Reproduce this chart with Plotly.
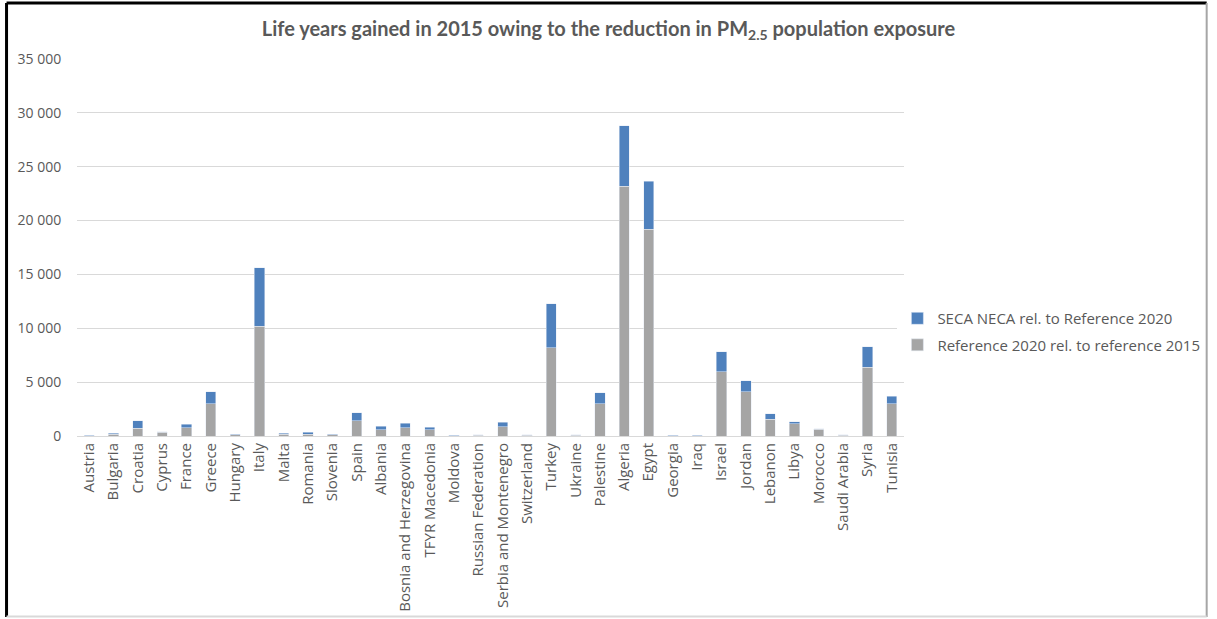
import plotly.graph_objects as go

countries = ["Austria", "Bulgaria", "Croatia", "Cyprus", "France", "Greece", "Hungary", "Italy",
             "Malta", "Romania", "Slovenia", "Spain", "Albania", "Bosnia and Herzegovina",
             "TFYR Macedonia", "Moldova", "Russian Federation", "Serbia and Montenegro",
             "Switzerland", "Turkey", "Ukraine", "Palestine", "Algeria", "Egypt", "Georgia",
             "Iraq", "Israel", "Jordan", "Lebanon", "Libya", "Morocco", "Saudi Arabia",
             "Syria", "Tunisia"]

# Reference 2020 rel. to reference 2015
ref_2020 = [30, 150, 700, 350, 780, 3000, 100, 10200,
            150, 180, 100, 1400, 580, 750,
            560, 10, 70, 850,
            80, 8200, 70, 3000, 23200, 19200, 10,
            10, 5950, 4100, 1550, 1150, 620, 60,
            6400, 3000]

# SECA NECA rel. to Reference 2020
seca_neca = [60, 100, 700, 50, 300, 1100, 50, 5400,
             100, 150, 60, 750, 320, 450,
             250, 60, 60, 450,
             50, 4100, 60, 1000, 5600, 4450, 60,
             60, 1850, 1050, 500, 170, 40, 70,
             1900, 700]

y_ticks = [0, 5000, 10000, 15000, 20000, 25000, 30000, 35000]

fig = go.Figure()
fig.add_trace(go.Bar(x=countries, y=ref_2020, name="Reference 2020 rel. to reference 2015",
                     marker_color="#A5A5A5", legendgroup="ref", legendrank=2))
fig.add_trace(go.Bar(x=countries, y=seca_neca, name="SECA NECA rel. to Reference 2020",
                     marker_color="#4F81BD", legendgroup="seca", legendrank=1))

fig.update_layout(
    barmode="stack",
    bargap=0.58,
    width=1217, height=619,
    paper_bgcolor="white", plot_bgcolor="white",
    separators=", ",
    font=dict(family="Open Sans", size=13, color="#595959"),
    title=dict(text="Life years gained in 2015 owing to the reduction in PM<sub>2.5</sub> population exposure",
               font=dict(family="Lato", size=20, color="#595959", weight="bold"),
               x=0.5, xanchor="center", y=0.953, yanchor="middle"),
    legend=dict(x=0.992, y=0.277, xanchor="left", yanchor="middle",
                traceorder="grouped", font=dict(size=15, color="#595959"),
                itemwidth=30, tracegroupgap=4),
    margin=dict(l=77, r=307, t=59, b=183),
    # chart frame: dark on left/top, light on right/bottom
    shapes=[
        dict(type="line", xref="paper", yref="paper", x0=-0.0852, x1=-0.0852, y0=1.1485, y1=-0.48,
             line=dict(color="black", width=3)),
        dict(type="line", xref="paper", yref="paper", x0=-0.0852, x1=1.366, y0=1.1485, y1=1.1485,
             line=dict(color="black", width=3)),
        dict(type="line", xref="paper", yref="paper", x0=1.366, x1=1.366, y0=1.1485, y1=-0.48,
             line=dict(color="#A6A6A6", width=2)),
        dict(type="line", xref="paper", yref="paper", x0=-0.0852, x1=1.366, y0=-0.4785, y1=-0.4785,
             line=dict(color="#D9D9D9", width=2)),
    ],
)
fig.update_yaxes(range=[0, 35000], tickvals=y_ticks, tickformat=",d",
                 showgrid=True, gridcolor="#D9D9D9", gridwidth=1,
                 zeroline=False, showline=False, automargin=False,
                 ticks="outside", ticklen=12, tickcolor="rgba(0,0,0,0)",
                 tickfont=dict(size=14, color="#595959"))
fig.update_xaxes(tickangle=-90, showline=True, linecolor="#D9D9D9", linewidth=1,
                 ticks="", automargin=False, tickfont=dict(size=15, color="#595959"))

# page has a default body margin; drop it so the chart sits at the window's corner
fig.write_html("out.html", config={"displayModeBar": False, "responsive": False},
               post_script="document.body.style.margin='0';")
